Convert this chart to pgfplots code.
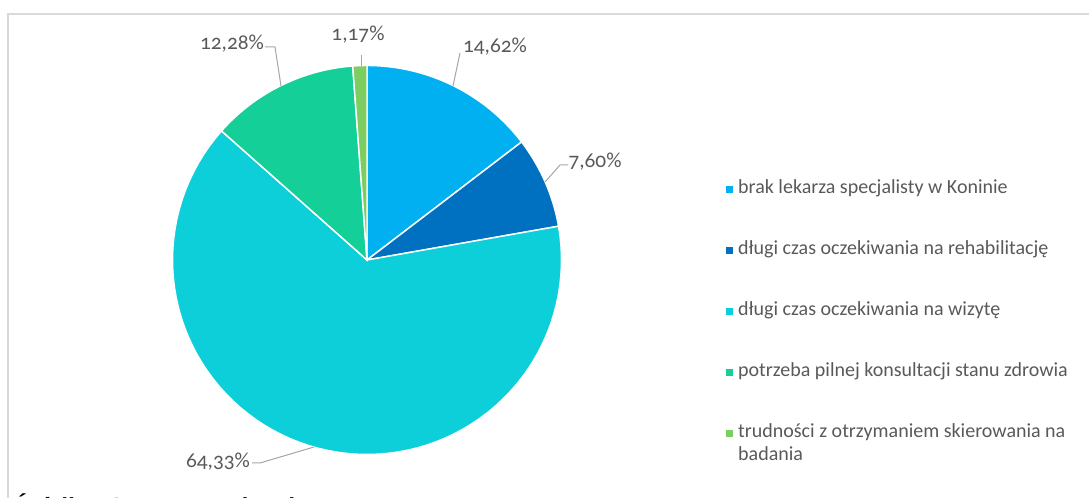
\documentclass[border=0pt]{standalone}
\usepackage{pgfplots}
\pgfplotsset{compat=1.18}
\usepackage{fontspec}
\setmainfont{Carlito}[Numbers=OldStyle]
\newfontfamily\arialfont{Liberation Sans}
\definecolor{c1}{HTML}{00B0F0}
\definecolor{c2}{HTML}{0070C0}
\definecolor{c3}{HTML}{0DCFDA}
\definecolor{c4}{HTML}{14CF97}
\definecolor{c5}{HTML}{7DCE60}
\definecolor{txt}{HTML}{595959}
\definecolor{framec}{HTML}{D9D9D9}
\definecolor{lead}{HTML}{A6A6A6}
\def\vA{14.62}\def\vB{7.60}\def\vC{64.33}\def\vD{12.28}\def\vE{1.17}
\begin{document}
\begin{tikzpicture}
\pgfmathsetmacro\aA{90}
\pgfmathsetmacro\aB{\aA-3.6*\vA}
\pgfmathsetmacro\aC{\aB-3.6*\vB}
\pgfmathsetmacro\aD{\aC-3.6*\vC}
\pgfmathsetmacro\aE{\aD-3.6*\vD}
\pgfmathsetmacro\aF{\aE-3.6*\vE}
\useasboundingbox (0,0) rectangle (816.75pt,373.5pt);
\begin{scope}
\clip (0,0) rectangle (816.75pt,373.5pt);
\begin{axis}[x=0.75pt,y=0.75pt,xmin=0,xmax=1089,ymin=0,ymax=498,
  at={(0,0)}, anchor=origin,
  hide axis, clip=false,
  legend style={at={(axis cs:726,315)}, anchor=north west, draw=none, fill=none,
    inner sep=0pt, row sep=35.75pt, column sep=3.75pt,
    font=\fontsize{15}{17.25}\selectfont\color{txt},
    cells={anchor=west},
    nodes={inner sep=0pt, text height=8pt, text depth=2pt}},
  legend image code/.code={\fill[#1, draw=none] (0pt,-2.6pt) rectangle (5.2pt,2.6pt);},
  every axis plot/.append style={draw=white, line width=1.1pt, samples=80}]
\addplot[fill=c1, domain=\aB:\aA] ({367+194.5*cos(x)},{238+194.5*sin(x)}) -- (axis cs:367,238) -- cycle;
\addplot[fill=c2, domain=\aC:\aB] ({367+194.5*cos(x)},{238+194.5*sin(x)}) -- (axis cs:367,238) -- cycle;
\addplot[fill=c3, domain=\aD:\aC] ({367+194.5*cos(x)},{238+194.5*sin(x)}) -- (axis cs:367,238) -- cycle;
\addplot[fill=c4, domain=\aE:\aD] ({367+194.5*cos(x)},{238+194.5*sin(x)}) -- (axis cs:367,238) -- cycle;
\addplot[fill=c5, domain=\aF:\aE, samples=10] ({367+194.5*cos(x)},{238+194.5*sin(x)}) -- (axis cs:367,238) -- cycle;
\legend{brak lekarza specjalisty w Koninie,
  długi czas oczekiwania na rehabilitację,
  długi czas oczekiwania na wizytę,
  potrzeba pilnej konsultacji stanu zdrowia,
  {\vtop{\baselineskip=17.25pt\hbox{trudności z otrzymaniem skierowania na}\hbox{badania}}}}
\draw[lead, line width=0.75pt] (axis cs:460,445) -- (axis cs:453,412);
\draw[lead, line width=0.75pt] (axis cs:568,333) -- (axis cs:560,333) -- (axis cs:545,316);
\draw[lead, line width=0.75pt] (axis cs:252,35) -- (axis cs:260,35) -- (axis cs:314,51);
\draw[lead, line width=0.75pt] (axis cs:265,451) -- (axis cs:275,451) -- (axis cs:281,412);
\draw[lead, line width=0.75pt] (axis cs:361,443) -- (axis cs:361,432);
\node[font=\fontsize{16}{18}\selectfont, text=txt, inner sep=0pt] at (axis cs:495,451) {14,62\%};
\node[font=\fontsize{16}{18}\selectfont, text=txt, inner sep=0pt] at (axis cs:595,336) {7,60\%};
\node[font=\fontsize{16}{18}\selectfont, text=txt, inner sep=0pt] at (axis cs:218,36) {64,33\%};
\node[font=\fontsize{16}{18}\selectfont, text=txt, inner sep=0pt] at (axis cs:232,454) {12,28\%};
\node[font=\fontsize{16}{18}\selectfont, text=txt, inner sep=0pt] at (axis cs:358,463) {1,17\%};
\draw[framec, line width=1.2pt] (axis cs:1095,484) -- (axis cs:8,484) -- (axis cs:8,-10);
\node[anchor=base west, inner sep=0pt, font=\arialfont\bfseries\itshape\fontsize{18.5}{20}\selectfont] at (axis cs:11,-18) {Źródło: Opracowanie własne};
\end{axis}
\end{scope}
\end{tikzpicture}
\end{document}
